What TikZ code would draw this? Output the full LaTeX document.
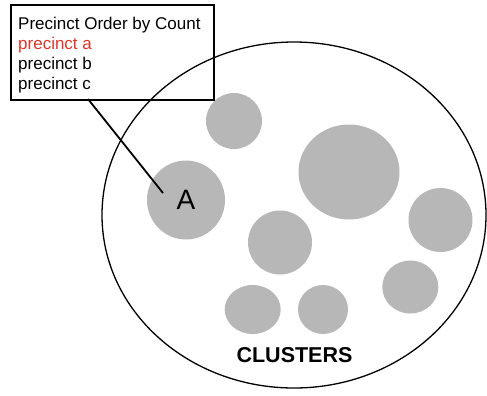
\documentclass[tikz,border=0pt]{standalone}
\usepackage{fontspec}
\setmainfont{Liberation Sans}
\usetikzlibrary{shapes.geometric}
\definecolor{clfill}{RGB}{183,183,183}
\definecolor{redtxt}{RGB}{222,52,44}
\begin{document}
\begin{tikzpicture}[x=1bp,y=-1bp,
  clus/.style={ellipse, fill=clfill, inner sep=0pt},
  lbl/.style={anchor=base west, inner sep=0pt, font=\fontsize{17bp}{20bp}\selectfont}]
\useasboundingbox (0,0) rectangle (487,395);
% big outer ellipse
\draw[line width=1.3bp] (294,215) ellipse [x radius=192, y radius=173];
% clusters
\node[clus, minimum width=56bp, minimum height=56bp] (c1) at (234,121) {};
\node[clus, minimum width=101bp, minimum height=95bp] (c2) at (349,172) {};
\node[clus, minimum width=78bp, minimum height=79bp, font=\fontsize{28bp}{30bp}\selectfont] (A) at (186,200) {A};
\node[clus, minimum width=64bp, minimum height=64bp] (c4) at (280,242.5) {};
\node[clus, minimum width=64bp, minimum height=64bp] (c5) at (440.5,220) {};
\node[clus, minimum width=56bp, minimum height=53bp] (c6) at (410.3,287) {};
\node[clus, minimum width=56bp, minimum height=49bp] (c7) at (252.7,309.5) {};
\node[clus, minimum width=50bp, minimum height=49bp] (c8) at (323,309.5) {};
\node[font=\fontsize{21.5bp}{24bp}\selectfont\bfseries] (cl) at (294.5,355) {CLUSTERS};
% legend box
\node[draw, line width=2bp, minimum width=203bp, minimum height=95bp, inner sep=0pt, anchor=north west] (box) at (10,4) {};
\node[lbl] (t1) at (18,29) {Precinct Order by Count};
\node[lbl, text=redtxt] (t2) at (18,49) {precinct a};
\node[lbl] (t3) at (18,69) {precinct b};
\node[lbl] (t4) at (18,89) {precinct c};
% connector
\coordinate (ls) at (88,99);
\coordinate (le) at (163,193);
\draw[line width=1.8bp] (ls) -- (le);
\end{tikzpicture}
\end{document}
